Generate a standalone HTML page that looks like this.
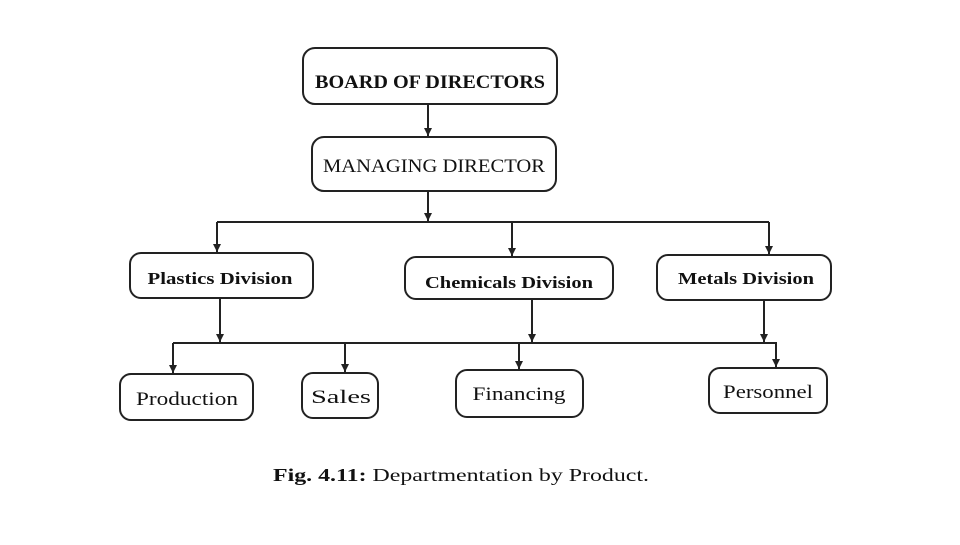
<!DOCTYPE html>
<html><head><meta charset="utf-8"><style>
body{margin:0;background:#fff;}
svg text{font-family:"Liberation Serif",serif;fill:#111;}
</style></head><body>
<svg width="960" height="540" viewBox="0 0 960 540" xmlns="http://www.w3.org/2000/svg">
<defs><marker id="a" markerWidth="8" markerHeight="8" refX="8" refY="4" orient="auto" markerUnits="userSpaceOnUse"><path d="M0,0 L8,4 L0,8 z" fill="#222"/></marker></defs>
<g fill="none" stroke="#222" stroke-width="2">
<rect x="303" y="48" width="254" height="56" rx="12"/>
<rect x="312" y="137" width="244" height="54" rx="12"/>
<rect x="130" y="253" width="183" height="45" rx="11"/>
<rect x="405" y="257" width="208" height="42" rx="11"/>
<rect x="657" y="255" width="174" height="45" rx="11"/>
<rect x="120" y="374" width="133" height="46" rx="11"/>
<rect x="302" y="373" width="76" height="45" rx="11"/>
<rect x="456" y="370" width="127" height="47" rx="11"/>
<rect x="709" y="368" width="118" height="45" rx="11"/>
<path d="M428 104 V136" marker-end="url(#a)"/>
<path d="M428 191 V221" marker-end="url(#a)"/>
<path d="M217 222 H769"/>
<path d="M217 222 V252" marker-end="url(#a)"/>
<path d="M512 222 V256" marker-end="url(#a)"/>
<path d="M769 222 V254" marker-end="url(#a)"/>
<path d="M220 298 V342" marker-end="url(#a)"/>
<path d="M532 299 V342" marker-end="url(#a)"/>
<path d="M764 300 V342" marker-end="url(#a)"/>
<path d="M173 343 H777"/>
<path d="M173 343 V373" marker-end="url(#a)"/>
<path d="M345 343 V372" marker-end="url(#a)"/>
<path d="M519 343 V369" marker-end="url(#a)"/>
<path d="M776 343 V367" marker-end="url(#a)"/>
</g>
<g text-anchor="middle">
<text x="430" y="88" font-size="19" font-weight="bold" textLength="230" lengthAdjust="spacingAndGlyphs">BOARD OF DIRECTORS</text>
<text x="434" y="172" font-size="19" textLength="222" lengthAdjust="spacingAndGlyphs">MANAGING DIRECTOR</text>
<text x="220" y="284" font-size="17" font-weight="bold" textLength="145" lengthAdjust="spacingAndGlyphs">Plastics Division</text>
<text x="509" y="288" font-size="17" font-weight="bold" textLength="168" lengthAdjust="spacingAndGlyphs">Chemicals Division</text>
<text x="746" y="284" font-size="17" font-weight="bold" textLength="136" lengthAdjust="spacingAndGlyphs">Metals Division</text>
<text x="187" y="405" font-size="19" textLength="102" lengthAdjust="spacingAndGlyphs">Production</text>
<text x="341" y="403" font-size="19" textLength="60" lengthAdjust="spacingAndGlyphs">Sales</text>
<text x="519" y="400" font-size="19" textLength="93" lengthAdjust="spacingAndGlyphs">Financing</text>
<text x="768" y="398" font-size="19" textLength="90" lengthAdjust="spacingAndGlyphs">Personnel</text>
</g>
<text x="273" y="481" font-size="18" textLength="376" lengthAdjust="spacingAndGlyphs"><tspan font-weight="bold">Fig. 4.11:</tspan> Departmentation by Product.</text>
</svg>
</body></html>
